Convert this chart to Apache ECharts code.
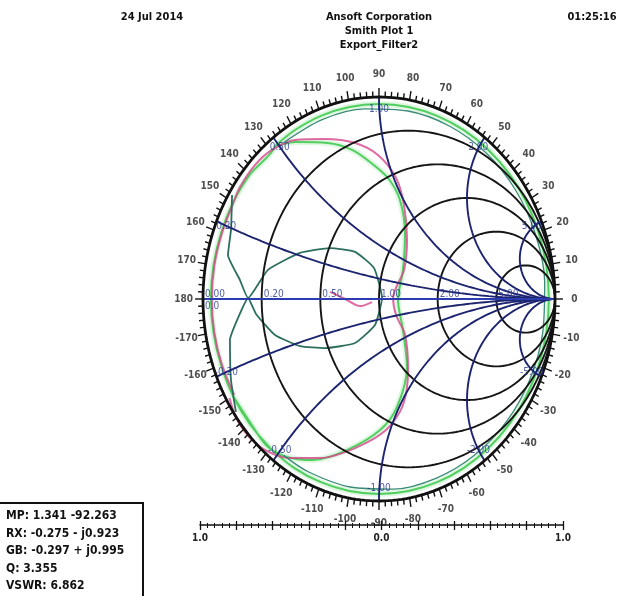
<!DOCTYPE html>
<html>
<head>
<meta charset="utf-8">
<script src="https://cdn.jsdelivr.net/npm/echarts@6/dist/echarts.min.js"></script>
<style>
  html, body { margin: 0; background: #fff; }
  #chart { width: 633px; height: 596px; }
</style>
</head>
<body>
<div id="chart"></div>
<script>
// grid values of the Smith chart
const rCircles = [0.2, 0.5, 1, 2, 5]
const xArcs = [0.2, 0.5, 1, 2, 5]
const rLabelValues = [0, 0.2, 0.5, 1, 2, 5]
const rLabelTexts = ["0.00", "0.20", "0.50", "1.00", "2.00", "5.00"]
const xLabelValues = [0.2, 0.5, 1, 2, 5, -0.2, -0.5, -1, -2, -5]
const xLabelTexts = ["0.20", "0.50", "1.00", "2.00", "5.00", "-0.20", "-0.50", "-1.00", "-2.00", "-5.00"]
const angleLabels = [0, 10, 20, 30, 40, 50, 60, 70, 80, 90, 100, 110, 120, 130, 140, 150, 160, 170, 180,
  -170, -160, -150, -140, -130, -120, -110, -100, -90, -80, -70, -60, -50, -40, -30, -20, -10]
const scaleLabels = [-1, 0, 1]

// traces, reflection coefficient
// rim parts as [magnitude, angle deg], inner parts as [re, im]
const s11Rim = [[0.96, 128], [0.963, 120], [0.965, 110], [0.965, 100], [0.965, 90], [0.965, 80], [0.965, 70],
  [0.965, 60], [0.965, 50], [0.965, 40], [0.965, 30], [0.965, 20], [0.965, 10], [0.965, 0], [0.965, -10],
  [0.965, -20], [0.965, -30], [0.965, -40], [0.965, -50], [0.965, -60], [0.965, -70], [0.965, -80],
  [0.965, -90], [0.965, -100], [0.965, -110], [0.965, -120], [0.962, -130], [0.96, -140], [0.958, -150],
  [0.955, -160], [0.955, -170], [0.955, 180], [0.955, 170], [0.955, 160], [0.957, 150], [0.958, 140], [0.96, 128]]
const s11Inner = [[-0.591, 0.757], [-0.477, 0.777], [-0.29, 0.772], [-0.153, 0.738], [-0.051, 0.678],
  [0.051, 0.599], [0.119, 0.49], [0.148, 0.317], [0.136, 0.144], [0.108, -0.005], [0.136, -0.153],
  [0.159, -0.337], [0.102, -0.535], [0.006, -0.649], [-0.182, -0.748], [-0.375, -0.797], [-0.523, -0.782],
  [-0.64, -0.725], [-0.74, -0.6], [-0.83, -0.48]]

const s22Rim = [[0.95, -150], [0.95, -160], [0.95, -170], [0.95, 180], [0.95, 170], [0.95, 160], [0.955, 150], [0.965, 145]]
const s22Inner = [[-0.705, 0.663], [-0.608, 0.738], [-0.477, 0.787], [-0.307, 0.792], [-0.136, 0.772],
  [-0.006, 0.713], [0.097, 0.599], [0.142, 0.465], [0.159, 0.292], [0.142, 0.144], [0.08, 0.005],
  [0.097, -0.079], [0.148, -0.178], [0.165, -0.351], [0.136, -0.525], [0.04, -0.649], [-0.136, -0.738],
  [-0.335, -0.787], [-0.506, -0.787], [-0.665, -0.738], [-0.79, -0.624], [-0.85, -0.49]]
const s22Wiggle = [[-0.278, 0.035], [-0.193, 0.0], [-0.108, -0.035], [-0.04, -0.015]]

const s21Rim = [[0.945, 125], [0.945, 110], [0.945, 95], [0.945, 80], [0.945, 65], [0.945, 50], [0.945, 35],
  [0.945, 20], [0.945, 5], [0.945, -10], [0.945, -25], [0.945, -40], [0.945, -55], [0.945, -70],
  [0.945, -85], [0.945, -100], [0.945, -115], [0.945, -125]]
const s21Inner = [[-0.835, 0.515], [-0.841, 0.342], [-0.858, 0.218], [-0.79, 0.094], [-0.744, 0.005],
  [-0.631, 0.144], [-0.449, 0.228], [-0.278, 0.252], [-0.136, 0.233], [-0.028, 0.153], [0.017, 0.005],
  [-0.023, -0.129], [-0.136, -0.218], [-0.307, -0.243], [-0.449, -0.233], [-0.591, -0.178],
  [-0.699, -0.074], [-0.744, 0.005], [-0.801, -0.094], [-0.847, -0.203], [-0.841, -0.401], [-0.813, -0.559]]

const markerLines = ["MP: 1.341 -92.263", "RX: -0.275 - j0.923", "GB: -0.297 + j0.995", "Q: 3.355", "VSWR: 6.862"]

const FONT = '"DejaVu Sans Condensed", "Liberation Sans Narrow", "Liberation Sans", Arial, sans-serif'
const deg = Math.PI / 180
const polar = (p) => [p[0] * Math.cos(p[1] * deg), p[0] * Math.sin(p[1] * deg)]

function rCirclePts(r) {
  const c = r / (1 + r)
  const rad = 1 / (1 + r)
  const pts = []
  for (let i = 0; i <= 240; i++) {
    const t = (i / 240) * 2 * Math.PI
    pts.push([c + rad * Math.cos(t), rad * Math.sin(t)])
  }
  return pts
}

function gammaOf(r, x) {
  const d = (r + 1) * (r + 1) + x * x
  return [(r * r - 1 + x * x) / d, (2 * x) / d]
}

function xArcPts(x) {
  const pts = []
  for (let i = 0; i < 200; i++) {
    pts.push(gammaOf(Math.tan((i / 200) * Math.PI / 2), x))
  }
  pts.push([1, 0])
  return pts
}

const chart = echarts.init(document.getElementById("chart"))

const series = []
const lineBase = { type: "line", xAxisIndex: 0, yAxisIndex: 0, showSymbol: false, symbol: "none", silent: true, animation: false, clip: false }
const labelBase = { type: "scatter", xAxisIndex: 0, yAxisIndex: 0, symbolSize: 0, silent: true, animation: false, clip: false, z: 5 }

// traces underneath the grid
series.push({ ...lineBase, z: 1, smooth: 0.3, data: s11Rim.map(polar).concat(s11Inner),
  lineStyle: { color: "rgba(140, 225, 150, 0.28)", width: 6 } })
series.push({ ...lineBase, z: 2, smooth: 0.3, data: s11Rim.map(polar).concat(s11Inner),
  lineStyle: { color: "rgba(55, 200, 70, 0.85)", width: 2 } })
series.push({ ...lineBase, z: 2, smooth: 0.3, data: s22Rim.map(polar).concat(s22Inner),
  lineStyle: { color: "rgba(215, 70, 140, 0.8)", width: 2 } })
series.push({ ...lineBase, z: 2, smooth: 0.3, data: s22Wiggle,
  lineStyle: { color: "rgba(215, 70, 140, 0.8)", width: 2 } })
series.push({ ...lineBase, z: 2, smooth: 0.3, data: s21Rim.map(polar),
  lineStyle: { color: "#3b8a78", width: 1.3 } })
series.push({ ...lineBase, z: 2, smooth: 0.15, data: s21Inner,
  lineStyle: { color: "#2d6f5f", width: 1.8 } })

// grid
rCircles.forEach((r) => {
  series.push({ ...lineBase, z: 3, data: rCirclePts(r), lineStyle: { color: "#151515", width: 1.9 } })
})
xArcs.forEach((x) => {
  series.push({ ...lineBase, z: 3, data: xArcPts(x), lineStyle: { color: "#1c2470", width: 1.9 } })
  series.push({ ...lineBase, z: 3, data: xArcPts(-x), lineStyle: { color: "#1c2470", width: 1.9 } })
})
series.push({ ...lineBase, z: 3, data: [[-1, 0], [1, 0]], lineStyle: { color: "#2b3bb0", width: 2 } })
series.push({ ...lineBase, z: 4, data: rCirclePts(0), lineStyle: { color: "#111", width: 2.8 } })

// rim ticks every 2 degrees
const tickAngles = []
for (let a = -178; a <= 180; a += 2) tickAngles.push([a, 0])
series.push({
  type: "custom", xAxisIndex: 0, yAxisIndex: 0, silent: true, animation: false, z: 4, clip: false,
  data: tickAngles,
  renderItem: (params, api) => {
    const a = api.value(0)
    const len = a % 10 === 0 ? 1.045 : 1.028
    const p1 = api.coord([Math.cos(a * deg), Math.sin(a * deg)])
    const p2 = api.coord([len * Math.cos(a * deg), len * Math.sin(a * deg)])
    return { type: "line", shape: { x1: p1[0], y1: p1[1], x2: p2[0], y2: p2[1] }, style: { stroke: "#111", lineWidth: 1.4 } }
  },
})

// angle labels
series.push({
  ...labelBase,
  data: angleLabels.map((a) => ({ name: String(a), value: [1.11 * Math.cos(a * deg), 1.11 * Math.sin(a * deg)] })),
  label: { show: true, position: "inside", formatter: (p) => p.name, color: "#222", fontSize: 10, fontWeight: "bold", fontFamily: FONT },
  labelLayout: { hideOverlap: false },
})

// resistance labels on the real axis
series.push({
  ...labelBase,
  data: rLabelValues.map((r, i) => ({ name: rLabelTexts[i], value: [(r - 1) / (r + 1), 0] })),
  label: { show: true, position: "right", distance: 2, offset: [0, -5], formatter: (p) => p.name, color: "#26348f", fontSize: 10, fontFamily: FONT },
})
series.push({
  ...labelBase,
  data: [{ name: "0.0", value: [-1, 0] }],
  label: { show: true, position: "right", distance: 2, offset: [0, 7], formatter: (p) => p.name, color: "#26348f", fontSize: 10, fontFamily: FONT },
})

// reactance labels on the rim
series.push({
  ...labelBase,
  data: xLabelValues.map((x, i) => {
    const g = gammaOf(0, x)
    return { name: xLabelTexts[i], value: [0.94 * g[0], 0.94 * g[1]] }
  }),
  label: { show: true, position: "inside", formatter: (p) => p.name, color: "#26348f", fontSize: 10, fontFamily: FONT },
})

const option = {
  animation: false,
  grid: [
    { left: 203, top: 97, width: 352, height: 404 },
    { left: 200, top: 525, width: 363, height: 0 },
  ],
  xAxis: [
    { gridIndex: 0, type: "value", min: -1, max: 1, show: false },
    {
      gridIndex: 1, type: "value", min: -1, max: 1, interval: 0.2, position: "bottom",
      axisLine: { show: true, lineStyle: { color: "#111", width: 1.5 } },
      axisTick: { show: true, length: 5, lineStyle: { color: "#111", width: 1.3 } },
      minorTick: { show: true, splitNumber: 5, length: 3, lineStyle: { color: "#111", width: 1 } },
      axisLabel: {
        margin: 8, color: "#222", fontSize: 10, fontWeight: "bold", fontFamily: FONT,
        formatter: (v) => (scaleLabels.some((s) => Math.abs(s - v) < 1e-6) ? Math.abs(v).toFixed(1) : ""),
      },
      splitLine: { show: false },
    },
    {
      gridIndex: 1, type: "value", min: -1, max: 1, interval: 0.2, position: "top",
      axisLine: { show: false },
      axisTick: { show: true, length: 4, lineStyle: { color: "#111", width: 1.3 } },
      minorTick: { show: true, splitNumber: 5, length: 2, lineStyle: { color: "#111", width: 1 } },
      axisLabel: { show: false },
      splitLine: { show: false },
    },
  ],
  yAxis: [
    { gridIndex: 0, type: "value", min: -1, max: 1, show: false },
    { gridIndex: 1, type: "value", min: 0, max: 1, show: false },
  ],
  graphic: [
    { type: "text", x: 152, y: 17, style: { text: "24 Jul 2014", align: "center", verticalAlign: "middle", font: "bold 11px " + FONT, fill: "#111" } },
    { type: "text", x: 379, y: 17, style: { text: "Ansoft Corporation", align: "center", verticalAlign: "middle", font: "bold 11px " + FONT, fill: "#111" } },
    { type: "text", x: 379, y: 31, style: { text: "Smith Plot 1", align: "center", verticalAlign: "middle", font: "bold 11px " + FONT, fill: "#111" } },
    { type: "text", x: 379, y: 45, style: { text: "Export_Filter2", align: "center", verticalAlign: "middle", font: "bold 11px " + FONT, fill: "#111" } },
    { type: "text", x: 592, y: 17, style: { text: "01:25:16", align: "center", verticalAlign: "middle", font: "bold 11px " + FONT, fill: "#111" } },
    { type: "rect", shape: { x: -4, y: 503, width: 147, height: 120 }, style: { fill: "none", stroke: "#111", lineWidth: 2 } },
    ...markerLines.map((t, i) => ({
      type: "text", x: 6, y: 516 + i * 17.5,
      style: { text: t, align: "left", verticalAlign: "middle", font: "bold 12px " + FONT, fill: "#111" },
    })),
  ],
  series,
}

chart.setOption(option)
</script>
</body>
</html>
